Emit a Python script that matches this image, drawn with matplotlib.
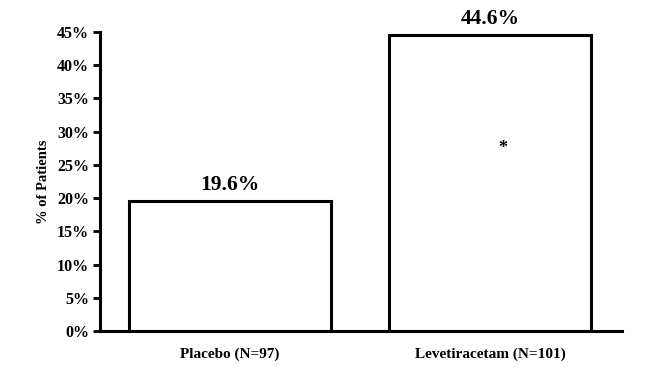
import matplotlib
matplotlib.use("Agg")
import matplotlib.pyplot as plt

categories = ["Placebo (N=97)", "Levetiracetam (N=101)"]
values = [19.6, 44.6]
value_labels = ["19.6%", "44.6%"]
yticks = [0, 5, 10, 15, 20, 25, 30, 35, 40, 45]

plt.rcParams['font.family'] = ['Liberation Serif', 'DejaVu Serif']

fig = plt.figure(figsize=(6.7, 3.75), dpi=100)
ax = fig.add_axes([100/670, 1 - 331/375, 522/670, 299/375])

x = list(range(len(categories)))
ax.bar(x, values, width=0.775, color='white', edgecolor='black', linewidth=2.2)
for xi, v, lab in zip(x, values, value_labels):
    ax.text(xi, v + 0.9, lab, ha='center', va='bottom', fontsize=15.5, fontweight='bold')
ax.text(1.05, 27.4, "*", ha='center', va='center', fontsize=13, fontweight='bold')

ax.set_xlim(-0.5, 1.508)
ax.set_ylim(0, 45)
ax.set_yticks(yticks)
ax.set_yticklabels([f"{t}%" for t in yticks], fontsize=11.5, fontweight='bold')
ax.set_xticks(x)
ax.set_xticklabels(categories, fontsize=11, fontweight='bold')
ax.tick_params(axis='x', length=0, pad=12)
ax.tick_params(axis='y', length=5, width=2, direction='out', pad=3)
for s in ['top', 'right']:
    ax.spines[s].set_visible(False)
for s in ['left', 'bottom']:
    ax.spines[s].set_linewidth(2.2)
ax.set_ylabel("% of Patients", fontsize=10.5, fontweight='bold', labelpad=5)

fig.savefig("out.png", dpi=100)
